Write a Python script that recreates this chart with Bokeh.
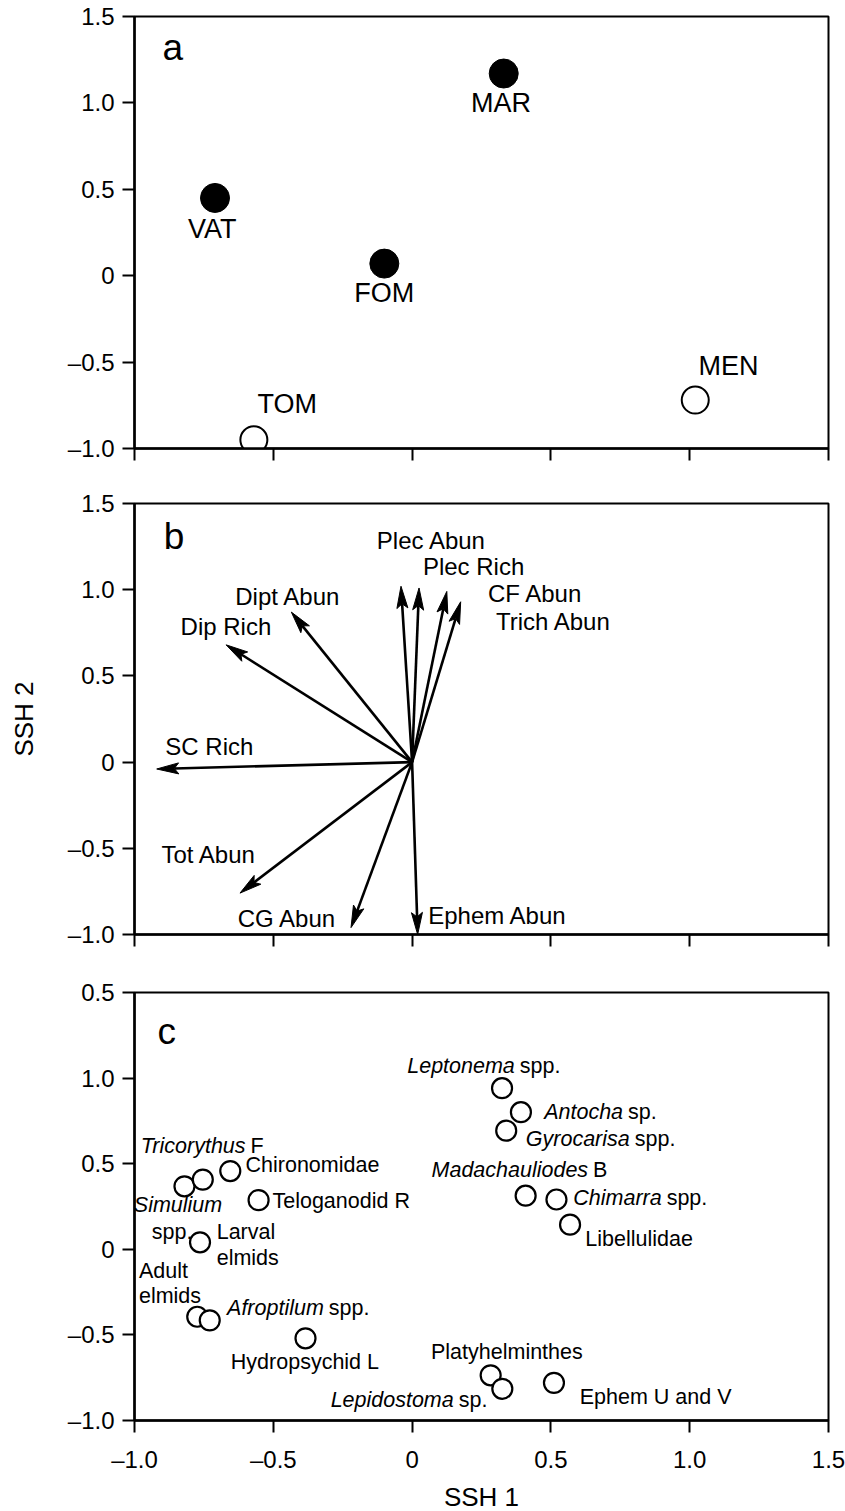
import math
from bokeh.plotting import figure
from bokeh.layouts import column
from bokeh.models import FixedTicker, Range1d
from bokeh.core.properties import value
from bokeh.embed import file_html
from bokeh.resources import INLINE

FONT = "Liberation Sans"

# ---------------- data ----------------
ticks = [-1.0, -0.5, 0.0, 0.5, 1.0, 1.5]
tick_labels = ["\u20131.0", "\u20130.5", "0", "0.5", "1.0", "1.5"]
tick_labels_c_y = ["\u20131.0", "\u20130.5", "0", "0.5", "1.0", "0.5"]

# panel a : sites
site_names = ["MAR", "VAT", "FOM", "TOM", "MEN"]
site_x = [0.33, -0.71, -0.10, -0.57, 1.02]
site_y = [1.17, 0.45, 0.07, -0.95, -0.72]
site_filled = [True, True, True, False, False]
site_label_x = [0.32, -0.72, -0.10, -0.45, 1.14]
site_label_y = [1.0, 0.27, -0.10, -0.74, -0.52]

# panel b : variable vectors
var_names = ["Plec Abun", "Plec Rich", "CF Abun", "Trich Abun", "Dipt Abun",
             "Dip Rich", "SC Rich", "Tot Abun", "CG Abun", "Ephem Abun"]
var_x = [-0.04, 0.025, 0.125, 0.175, -0.435, -0.67, -0.92, -0.62, -0.22, 0.02]
var_y = [1.02, 1.01, 0.99, 0.93, 0.87, 0.68, -0.04, -0.76, -0.96, -1.0]
var_label_x = [-0.127, 0.039, 0.273, 0.302, -0.637, -0.834, -0.889, -0.903, -0.628, 0.058]
var_label_y = [1.285, 1.133, 0.979, 0.815, 0.958, 0.786, 0.092, -0.536, -0.906, -0.892]

# panel c : taxa
taxa = ["Leptonema spp.", "Antocha sp.", "Gyrocarisa spp.", "Madachauliodes B",
        "Chimarra spp.", "Libellulidae", "Platyhelminthes", "Lepidostoma sp.",
        "Ephem U and V", "Hydropsychid L", "Adult elmids", "Afroptilum spp.",
        "Larval elmids", "Simulium spp.", "Tricorythus F", "Chironomidae", "Teloganodid R"]
taxa_x = [0.324, 0.392, 0.339, 0.409, 0.520, 0.569, 0.283, 0.325, 0.511, -0.384,
          -0.774, -0.729, -0.764, -0.820, -0.754, -0.655, -0.553]
taxa_y = [0.941, 0.801, 0.693, 0.313, 0.291, 0.144, -0.736, -0.815, -0.780, -0.520,
          -0.394, -0.415, 0.041, 0.368, 0.407, 0.457, 0.287]

# italic parts of labels (right end at given x) and the regular text following them
italic_text = ["Leptonema", "Antocha", "Gyrocarisa", "Madachauliodes", "Chimarra",
               "Lepidostoma", "Tricorythus", "Afroptilum", "Simulium"]
italic_x = [0.370, 0.760, 0.784, 0.634, 0.899, 0.150, -0.600, -0.318, -0.684]
italic_y = [1.073, 0.801, 0.646, 0.463, 0.297, -0.878, 0.602, -0.343, 0.256]
italic_tail = ["spp.", "sp.", "spp.", "B", "spp.", "sp.", "F", "spp.", ""]

# plain labels (left edge at given x)
plain_text = ["Chironomidae", "spp.", "Larval", "elmids", "Teloganodid R", "Adult", "elmids",
              "Hydropsychid L", "Libellulidae", "Platyhelminthes", "Ephem U and V"]
plain_x = [-0.600, -0.938, -0.704, -0.704, -0.503, -0.984, -0.984, -0.653, 0.624, 0.068, 0.604]
plain_y = [0.490, 0.100, 0.100, -0.049, 0.285, -0.126, -0.272, -0.659, 0.063, -0.602, -0.862]

panel_letters = ["a", "b", "c"]
letter_x = [-0.862, -0.858, -0.884]
letter_y = [1.32, 1.31, 1.27]

FRAME_W = 694


def make_fig(frame_h, top, bottom, show_x_labels, ylabels):
    p = figure(frame_width=FRAME_W, frame_height=frame_h,
               x_range=Range1d(-1, 1.5), y_range=Range1d(-1, 1.5),
               min_border_left=134, min_border_right=17,
               min_border_top=top, min_border_bottom=bottom,
               output_backend="svg", toolbar_location=None,
               background_fill_color="white", border_fill_color="white")
    p.grid.visible = False
    p.outline_line_color = "black"
    p.outline_line_width = 2
    for ax in (p.xaxis[0], p.yaxis[0]):
        ax.ticker = FixedTicker(ticks=ticks)
        ax.minor_tick_line_color = None
        ax.major_tick_out = 12
        ax.major_tick_in = 0
        ax.major_tick_line_width = 2
        ax.major_tick_line_color = "black"
        ax.axis_line_width = 2.5
        ax.axis_line_color = "black"
        ax.major_label_text_font = FONT
        ax.major_label_text_font_size = "24px"
        ax.major_label_text_color = "black"
        ax.axis_label_text_font = FONT
        ax.axis_label_text_font_style = "normal"
        ax.axis_label_text_font_size = "26px"
        ax.axis_label_text_color = "black"
    p.yaxis.major_label_standoff = 8
    p.yaxis.major_label_overrides = {t: l for t, l in zip(ticks, ylabels)}
    if show_x_labels:
        p.xaxis.major_label_standoff = 13
        p.xaxis.major_label_overrides = {t: l for t, l in zip(ticks, tick_labels)}
    else:
        p.xaxis.major_label_overrides = {t: "" for t in ticks}
        p.xaxis.major_label_text_font_size = "1px"
        p.xaxis.major_label_standoff = 0
    return p


def letter(p, i):
    p.text(x=[letter_x[i]], y=[letter_y[i]], text=[panel_letters[i]],
           text_font=value(FONT), text_font_size="37px", text_align="center",
           text_baseline="middle", text_color="black")


# ---------------- panel a ----------------
pa = make_fig(432, 16, 28, False, tick_labels)
fx = [x for x, f in zip(site_x, site_filled) if f]
fy = [y for y, f in zip(site_y, site_filled) if f]
ox = [x for x, f in zip(site_x, site_filled) if not f]
oy = [y for y, f in zip(site_y, site_filled) if not f]
pa.scatter(fx, fy, size=29, marker="circle", fill_color="black", line_color="black")
pa.scatter(ox, oy, size=27, marker="circle", fill_color="white", line_color="black", line_width=2)
pa.text(x=site_label_x, y=site_label_y, text=site_names, text_font=value(FONT),
        text_font_size="27px", text_align="center", text_baseline="middle", text_color="black")
letter(pa, 0)

# ---------------- panel b ----------------
pb = make_fig(431, 27, 29, False, tick_labels)
pb.yaxis.axis_label = "SSH 2"
pb.yaxis.axis_label_standoff = 26
PXX = FRAME_W / 2.5
PXY = 431 / 2.5
HL, HW = 22, 11
ex, ey, heads_x, heads_y = [], [], [], []
for vx, vy in zip(var_x, var_y):
    sx, sy = vx * PXX, vy * PXY
    d = math.hypot(sx, sy)
    ux, uy = sx / d, sy / d
    nx, ny = -uy, ux
    bx, by = sx - HL * ux, sy - HL * uy
    mx, my = sx - 0.8 * HL * ux, sy - 0.8 * HL * uy
    ex.append(mx / PXX)
    ey.append(my / PXY)
    hx = [sx, bx + HW / 2 * nx, mx, bx - HW / 2 * nx]
    hy = [sy, by + HW / 2 * ny, my, by - HW / 2 * ny]
    heads_x.append([v / PXX for v in hx])
    heads_y.append([v / PXY for v in hy])
pb.segment(x0=[0] * len(ex), y0=[0] * len(ey), x1=ex, y1=ey, line_color="black", line_width=2.6)
pb.patches(heads_x, heads_y, fill_color="black", line_color="black", line_width=1)
pb.text(x=var_label_x, y=var_label_y, text=var_names, text_font=value(FONT),
        text_font_size="24px", text_align="left", text_baseline="middle", text_color="black")
letter(pb, 1)

# ---------------- panel c ----------------
pc = make_fig(428, 29, 91, True, tick_labels_c_y)
pc.xaxis.axis_label = "SSH 1"
pc.xaxis.axis_label_standoff = 6
pc.scatter(taxa_x, taxa_y, size=20, marker="circle", fill_color="white",
           line_color="black", line_width=2.2)
pc.text(x=italic_x, y=italic_y, text=italic_text, text_font=value(FONT), text_font_style="italic",
        text_font_size="21.5px", text_align="right", text_baseline="middle", text_color="black")
pc.text(x=italic_x, y=italic_y, text=italic_tail, text_font=value(FONT), x_offset=5,
        text_font_size="21.5px", text_align="left", text_baseline="middle", text_color="black")
pc.text(x=plain_x, y=plain_y, text=plain_text, text_font=value(FONT),
        text_font_size="21.5px", text_align="left", text_baseline="middle", text_color="black")
letter(pc, 2)

layout = column(pa, pb, pc, spacing=0)
open("out.html", "w").write(file_html(layout, INLINE))
